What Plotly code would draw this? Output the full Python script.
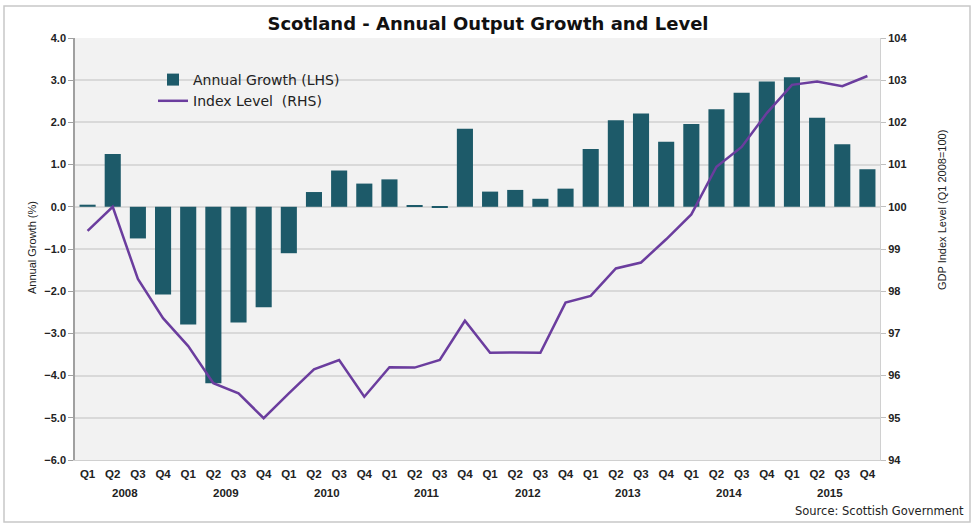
import plotly.graph_objects as go

years = ["2008", "2009", "2010", "2011", "2012", "2013", "2014", "2015"]
quarter_names = ["Q1", "Q2", "Q3", "Q4"]
periods = [f"{y} {q}" for y in years for q in quarter_names]
tick_labels = [q for y in years for q in quarter_names]

annual_growth = [0.05, 1.25, -0.75, -2.08, -2.79, -4.18, -2.74, -2.38,
                 -1.10, 0.35, 0.86, 0.55, 0.65, 0.03, -0.02, 1.85,
                 0.36, 0.40, 0.19, 0.43, 1.37, 2.05, 2.21, 1.54,
                 1.96, 2.31, 2.70, 2.97, 3.07, 2.11, 1.48, 0.89]

index_level = [99.43, 100.0, 98.29, 97.36, 96.70, 95.82, 95.58, 94.99,
               95.58, 96.15, 96.37, 95.50, 96.20, 96.19, 96.37, 97.30,
               96.54, 96.55, 96.54, 97.73, 97.89, 98.54, 98.68, 99.23,
               99.82, 100.95, 101.42, 102.22, 102.89, 102.97, 102.86, 103.10]

FONT = "Liberation Sans, Arial, sans-serif"
WIDE = "DejaVu Sans, Liberation Sans, Arial, sans-serif"

FW, FH = 976, 530
L, R, T, B = 75, 880, 38, 460
W = R - L
H = B - T

def px(xp):
    return (xp - L) / W

def py(yp):
    return (B - yp) / H

fig = go.Figure()
fig.add_trace(go.Bar(
    x=periods, y=annual_growth, name="Annual Growth (LHS)",
    marker=dict(color="#1d5a69", line=dict(width=0)), yaxis="y",
))
fig.add_trace(go.Scatter(
    x=periods, y=index_level, name="Index Level  (RHS)", mode="lines",
    line=dict(color="#6b3d9e", width=2.5), yaxis="y2",
))

annotations = []
for i, y in enumerate(years):
    annotations.append(dict(x=i * 4 + 1.5, y=py(493), xref="x", yref="paper",
                            xanchor="center", yanchor="middle",
                            text=f"<b>{y}</b>", showarrow=False,
                            font=dict(family=FONT, size=11.5, color="#222")))
annotations.append(dict(x=px(32), y=py(248), xref="paper", yref="paper",
                        xanchor="center", yanchor="middle",
                        text="Annual Growth (%)", textangle=-90, showarrow=False,
                        font=dict(family=FONT, size=11, color="#222")))
annotations.append(dict(x=px(942), y=py(210), xref="paper", yref="paper",
                        xanchor="center", yanchor="middle",
                        text="GDP Index Level (Q1 2008=100)", textangle=-90, showarrow=False,
                        font=dict(family=FONT, size=11, color="#222")))
annotations.append(dict(x=px(966), y=py(511), xref="paper", yref="paper",
                        xanchor="right", yanchor="middle",
                        text="Source: Scottish Government", showarrow=False,
                        font=dict(family=WIDE, size=11.5, color="#222")))

fig.update_layout(
    width=FW, height=FH,
    margin=dict(l=L, r=FW - R, t=T, b=FH - B),
    paper_bgcolor="white", plot_bgcolor="#f2f2f2",
    title=dict(text="<b>Scotland - Annual Output Growth and Level</b>",
               x=px(488), xanchor="center", y=1 - 24 / FH, yanchor="middle",
               xref="paper", font=dict(family=WIDE, size=18, color="#111")),
    font=dict(family=FONT, color="#222"),
    bargap=0.36,
    showlegend=True,
    legend=dict(x=px(153), y=py(64), xanchor="left", yanchor="top",
                bgcolor="rgba(0,0,0,0)", font=dict(family=WIDE, size=14, color="#222"),
                tracegroupgap=2, itemwidth=30),
    xaxis=dict(type="category", tickmode="array", tickvals=periods,
               ticktext=[f"<b>{t}</b>" for t in tick_labels],
               tickfont=dict(family=FONT, size=11.5, color="#222"),
               showgrid=False, showline=True, linecolor="#d0d0d0", ticks="",
               ticklabelstandoff=3, range=[-0.5, 31.5]),
    yaxis=dict(range=[-6, 4], dtick=1, tickformat=".1f",
               tickfont=dict(family=FONT, size=11, color="#222"),
               showgrid=True, gridcolor="#d9d9d9", gridwidth=1.5,
               zeroline=False, showline=True, linecolor="#a0a0a0", linewidth=1.5,
               ticks="outside", ticklen=5, tickcolor="#a0a0a0"),
    yaxis2=dict(range=[94, 104], dtick=1, overlaying="y", side="right",
                tickfont=dict(family=FONT, size=11, color="#222"),
                showgrid=False, zeroline=False, showline=True, linecolor="#d0d0d0",
                ticks="outside", ticklen=5, tickcolor="#c0c0c0"),
    annotations=annotations,
    shapes=[dict(type="rect", xref="paper", yref="paper",
                 x0=px(4), x1=px(970), y0=py(522), y1=py(6),
                 line=dict(color="#c8c8c8", width=1.5), fillcolor="rgba(0,0,0,0)",
                 layer="below")],
)

fig.update_yaxes(tickprefix="<b>", ticksuffix="</b>")

fig.write_html("out.html", config={"displayModeBar": False},
               post_script="document.body.style.margin='0';document.body.style.overflow='hidden';")
